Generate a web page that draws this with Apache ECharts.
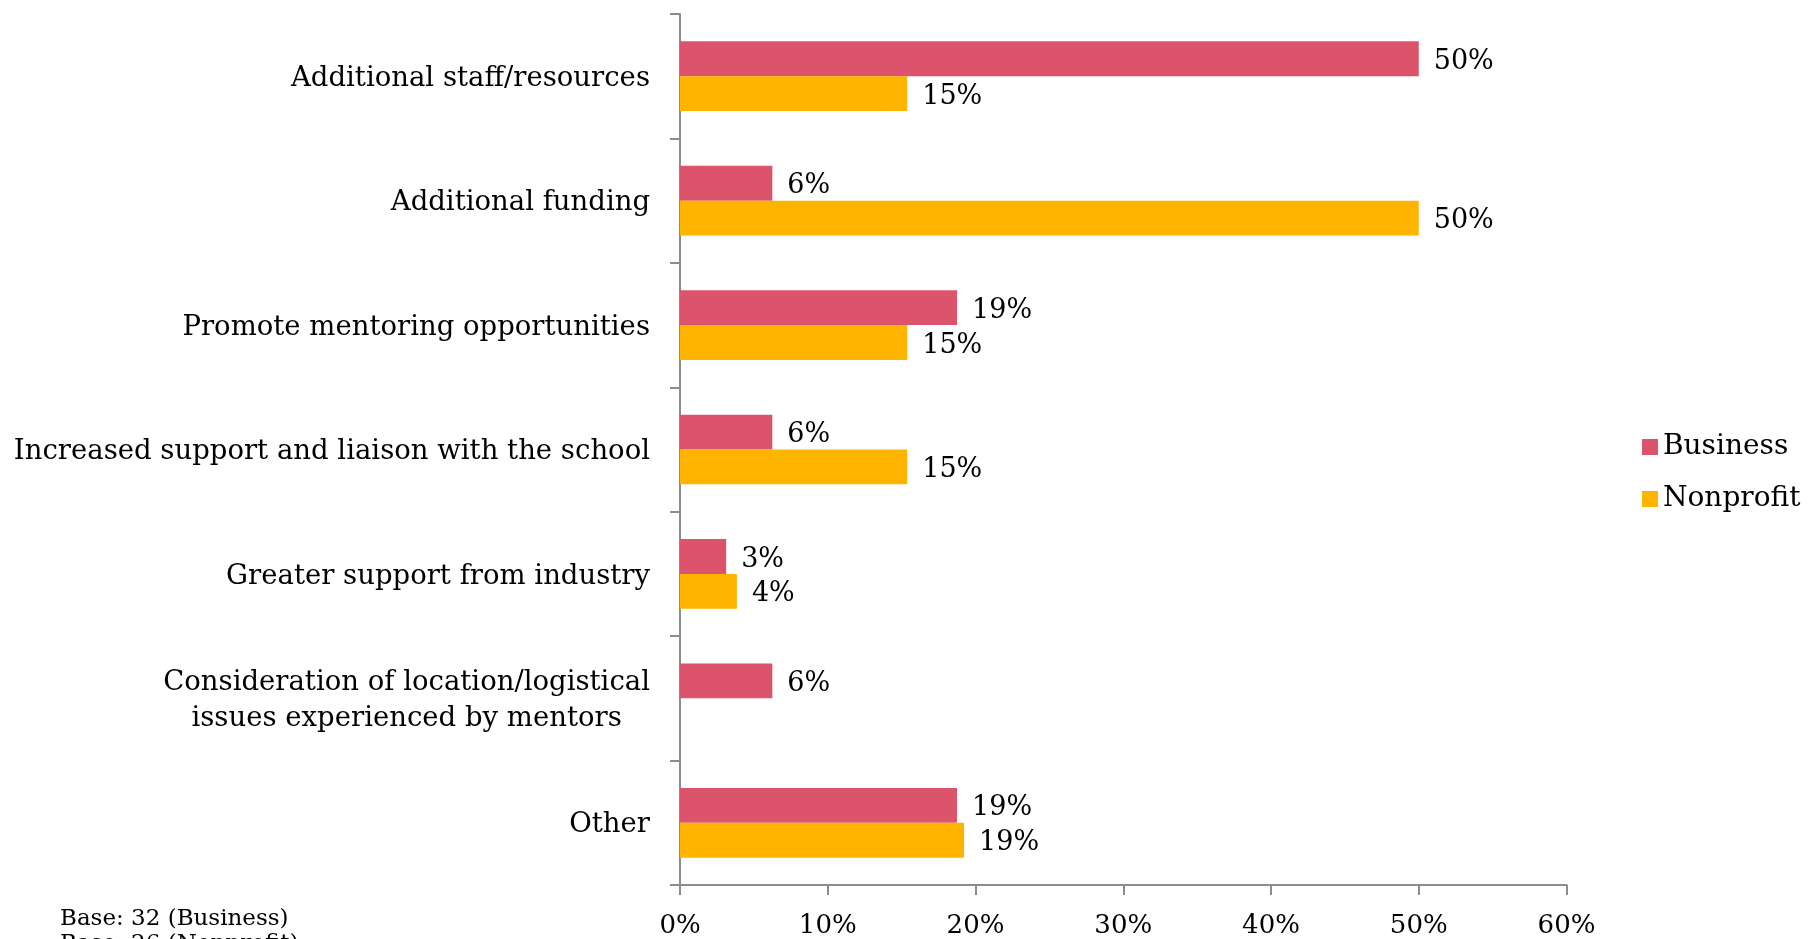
<!DOCTYPE html>
<html>
<head>
<meta charset="utf-8">
<script src="https://cdn.jsdelivr.net/npm/echarts@6/dist/echarts.min.js"></script>
<style>
  html, body { margin: 0; padding: 0; background: #fff; }
  #chart { width: 1810px; height: 939px; }
</style>
</head>
<body>
<div id="chart"></div>
<script>
// Survey: what would help improve the mentoring programme (% of respondents)
const categories = [
  'Additional staff/resources',
  'Additional funding',
  'Promote mentoring opportunities',
  'Increased support and liaison with the school',
  'Greater support from industry',
  'Consideration of location/logistical\nissues experienced by mentors',
  'Other'
];
const seriesNames = ['Business', 'Nonprofit'];
// Business base 32, Nonprofit base 26
const businessValues = [50, 6.25, 18.75, 6.25, 3.125, 6.25, 18.75];
const nonprofitValues = [15.38, 50, 15.38, 15.38, 3.85, null, 19.23];
const xTicks = [0, 10, 20, 30, 40, 50, 60];
const baseNotes = ['Base: 32 (Business)', 'Base: 26 (Nonprofit)'];

const FONT = '"DejaVu Serif", "Liberation Serif", serif';
const colors = ['#DB546B', '#FFB400'];

const chart = echarts.init(document.getElementById('chart'));

const labelStyle = {
  show: true,
  position: 'right',
  distance: 15,
  offset: [0, 3],
  color: '#000',
  fontFamily: FONT,
  fontSize: 27,
  formatter: p => Math.round(p.value) + '%'
};

chart.setOption({
  animation: false,
  backgroundColor: '#fff',
  color: colors,
  grid: { left: 680, top: 14, right: 243.5, bottom: 54, containLabel: false },
  legend: {
    orient: 'vertical',
    left: 1637,
    top: 428,
    itemWidth: 16,
    itemHeight: 16,
    itemGap: 24,
    icon: 'rect',
    textStyle: { fontFamily: FONT, fontSize: 28, color: '#000' },
    data: seriesNames
  },
  xAxis: {
    type: 'value',
    min: xTicks[0],
    max: xTicks[xTicks.length - 1],
    interval: 10,
    axisLine: { show: true, lineStyle: { color: '#8c8c8c', width: 2 } },
    axisTick: { show: true, length: 10, lineStyle: { color: '#8c8c8c', width: 2 } },
    splitLine: { show: false },
    axisLabel: {
      margin: 28,
      fontFamily: FONT,
      fontSize: 26,
      color: '#000',
      formatter: v => v + '%'
    }
  },
  yAxis: {
    type: 'category',
    inverse: true,
    data: categories,
    axisLine: { show: true, lineStyle: { color: '#8c8c8c', width: 2 } },
    axisTick: { show: true, length: 10, lineStyle: { color: '#8c8c8c', width: 2 } },
    axisLabel: {
      margin: 30,
      fontFamily: FONT,
      fontSize: 27.5,
      color: '#000',
      lineHeight: 36,
      padding: [5, 0, 0, 0],
      formatter: v => v.split('\n').map(s => '{c|' + s + '}').join('\n'),
      rich: {
        c: { align: 'center', fontFamily: FONT, fontSize: 27.5, color: '#000', lineHeight: 36 }
      }
    }
  },
  graphic: baseNotes.map((t, i) => ({
    type: 'text',
    left: 60,
    top: 908 + i * 25,
    style: { text: t, fontFamily: FONT, fontSize: 23, fill: '#000' }
  })),
  series: [
    {
      name: seriesNames[0],
      type: 'bar',
      data: businessValues,
      barGap: '0%',
      barCategoryGap: '44%',
      label: labelStyle
    },
    {
      name: seriesNames[1],
      type: 'bar',
      data: nonprofitValues,
      barGap: '0%',
      barCategoryGap: '44%',
      label: labelStyle
    }
  ]
});
</script>
</body>
</html>
